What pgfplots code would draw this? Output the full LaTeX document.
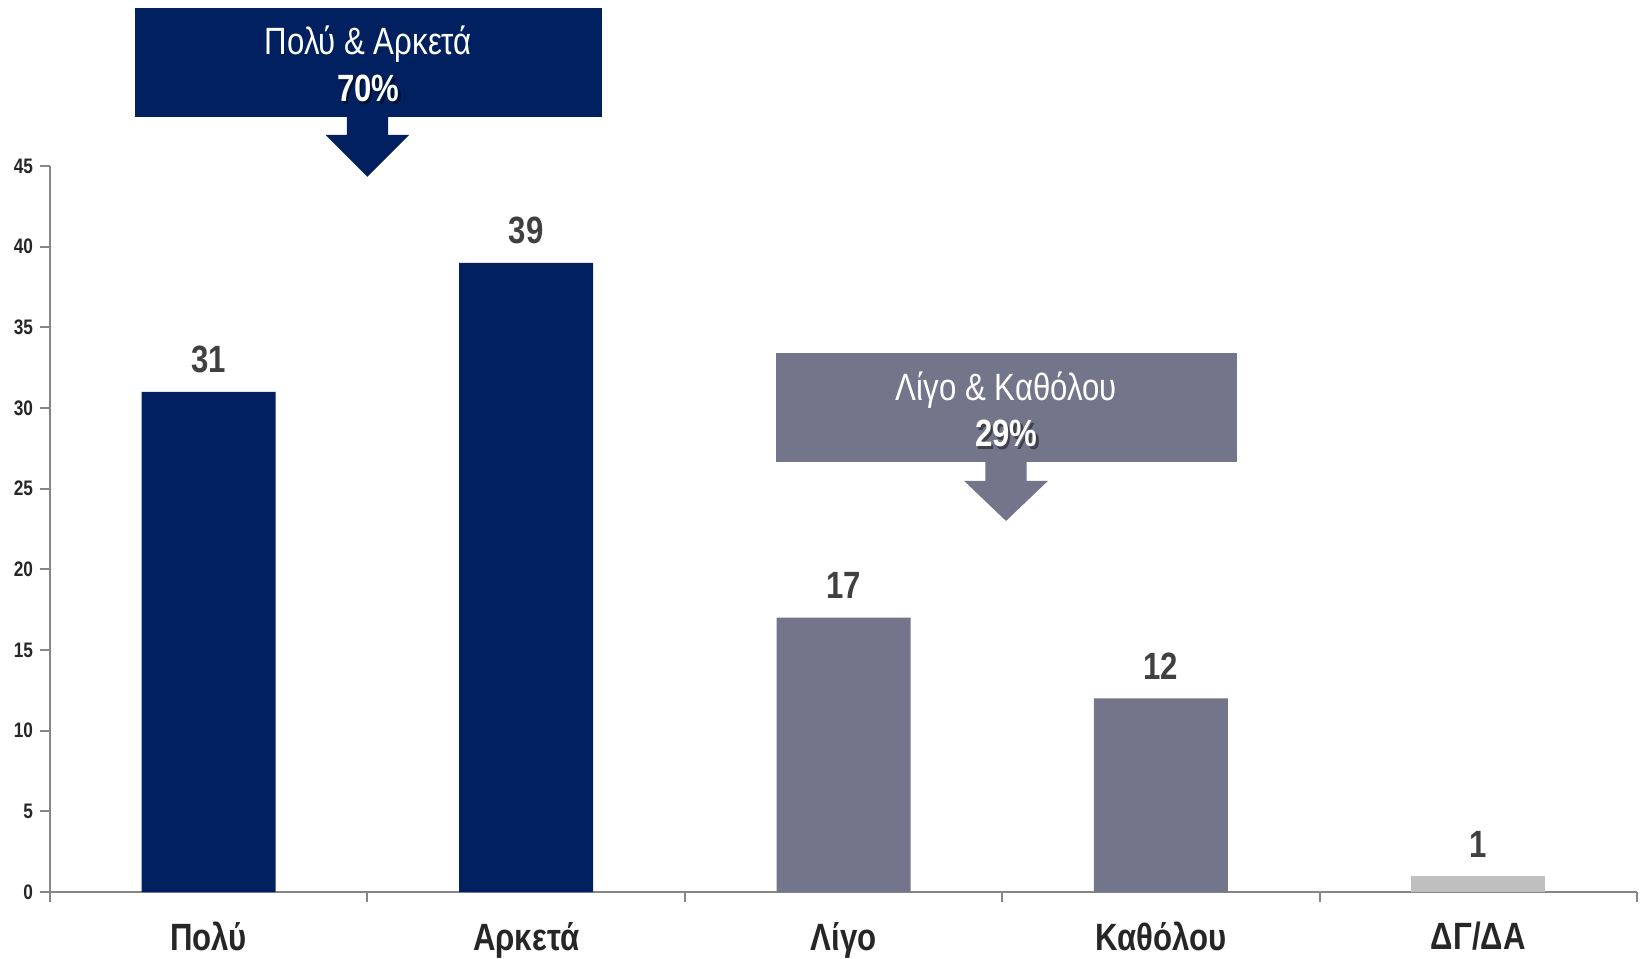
\documentclass[border=0pt]{standalone}
\usepackage{pgfplots}
\pgfplotsset{compat=1.18}
\usepackage{fontspec}
\setmainfont{Liberation Sans}[FakeStretch=0.82]
\definecolor{navy}{RGB}{0,32,96}
\definecolor{slate}{RGB}{115,117,138}
\definecolor{lgray}{RGB}{191,191,191}
\definecolor{axgray}{RGB}{134,134,134}
\definecolor{lbl}{RGB}{64,64,64}
\definecolor{tk}{RGB}{38,38,38}
\begin{document}
\begin{tikzpicture}
\begin{axis}[
  scale only axis, width=793.5pt, height=363pt,
  xmin=-0.5, xmax=4.5, ymin=0, ymax=45,
  axis x line=bottom, axis y line=left,
  axis line style={draw=axgray, line width=1pt, -},
  ytick={0,5,...,45},
  ytick style={draw=axgray, line width=1pt},
  major tick length=5pt,
  tick align=outside,
  yticklabel style={font=\bfseries\fontsize{10.5}{12}\selectfont, text=tk},
  /pgf/number format/assume math mode=true,
  xtick={-0.5,0.5,1.5,2.5,3.5,4.5}, xticklabel=\empty,
  xtick style={draw=axgray, line width=1pt},
  extra x ticks={0,1,2,3,4},
  extra x tick labels={Πολύ,Αρκετά,Λίγο,Καθόλου,ΔΓ/ΔΑ},
  extra x tick style={major tick length=0pt, tick style={draw=none}, tick label style={font=\bfseries\fontsize{19}{22}\selectfont, text=tk, inner sep=0pt, yshift=-15pt}},
  clip=false,
  ybar, bar width=67pt,
  nodes near coords,
  every node near coord/.append style={font=\bfseries\fontsize{19}{22}\selectfont, text=lbl, inner sep=0pt, anchor=south, yshift=9.2pt},
]
\addplot[fill=navy, draw=none, bar shift=0pt] coordinates {(0,31) (1,39)};
\addplot[fill=slate, draw=none, bar shift=0pt] coordinates {(2,17) (3,12)};
\addplot[fill=lgray, draw=none, bar shift=0pt] coordinates {(4,1)};
% invisible bounding frame
\path (axis cs:-0.6575,-4.03) rectangle (axis cs:4.522,55.29);
% callout 1
\fill[navy] (axis cs:-0.232,48.05) rectangle (axis cs:1.239,54.8);
\fill[navy] (axis cs:0.435,48.1) -- (axis cs:0.565,48.1) -- (axis cs:0.565,46.93) -- (axis cs:0.632,46.93) -- (axis cs:0.5,44.33) -- (axis cs:0.368,46.93) -- (axis cs:0.435,46.93) -- cycle;
\node[anchor=base, text=white, inner sep=0pt, font=\fontsize{19}{22}\selectfont] at (axis cs:0.503,51.9) {Πολύ \& Αρκετά};
\node[anchor=base, text=black, opacity=0.45, inner sep=0pt, font=\bfseries\fontsize{19}{22}\selectfont] at ([xshift=1.2pt,yshift=-1.2pt]axis cs:0.503,48.98) {70\%};
\node[anchor=base, text=white, inner sep=0pt, font=\bfseries\fontsize{19}{22}\selectfont] at (axis cs:0.503,48.98) {70\%};
% callout 2
\fill[slate] (axis cs:1.787,26.65) rectangle (axis cs:3.24,33.4);
\fill[slate] (axis cs:2.447,26.7) -- (axis cs:2.577,26.7) -- (axis cs:2.577,25.48) -- (axis cs:2.644,25.48) -- (axis cs:2.512,23.0) -- (axis cs:2.38,25.48) -- (axis cs:2.447,25.48) -- cycle;
\node[anchor=base, text=white, inner sep=0pt, font=\fontsize{19}{22}\selectfont] at (axis cs:2.513,30.47) {Λίγο \& Καθόλου};
\node[anchor=base, text=black, opacity=0.45, inner sep=0pt, font=\bfseries\fontsize{19}{22}\selectfont] at ([xshift=1.2pt,yshift=-1.2pt]axis cs:2.513,27.6) {29\%};
\node[anchor=base, text=white, inner sep=0pt, font=\bfseries\fontsize{19}{22}\selectfont] at (axis cs:2.513,27.6) {29\%};
\end{axis}
\end{tikzpicture}
\end{document}
